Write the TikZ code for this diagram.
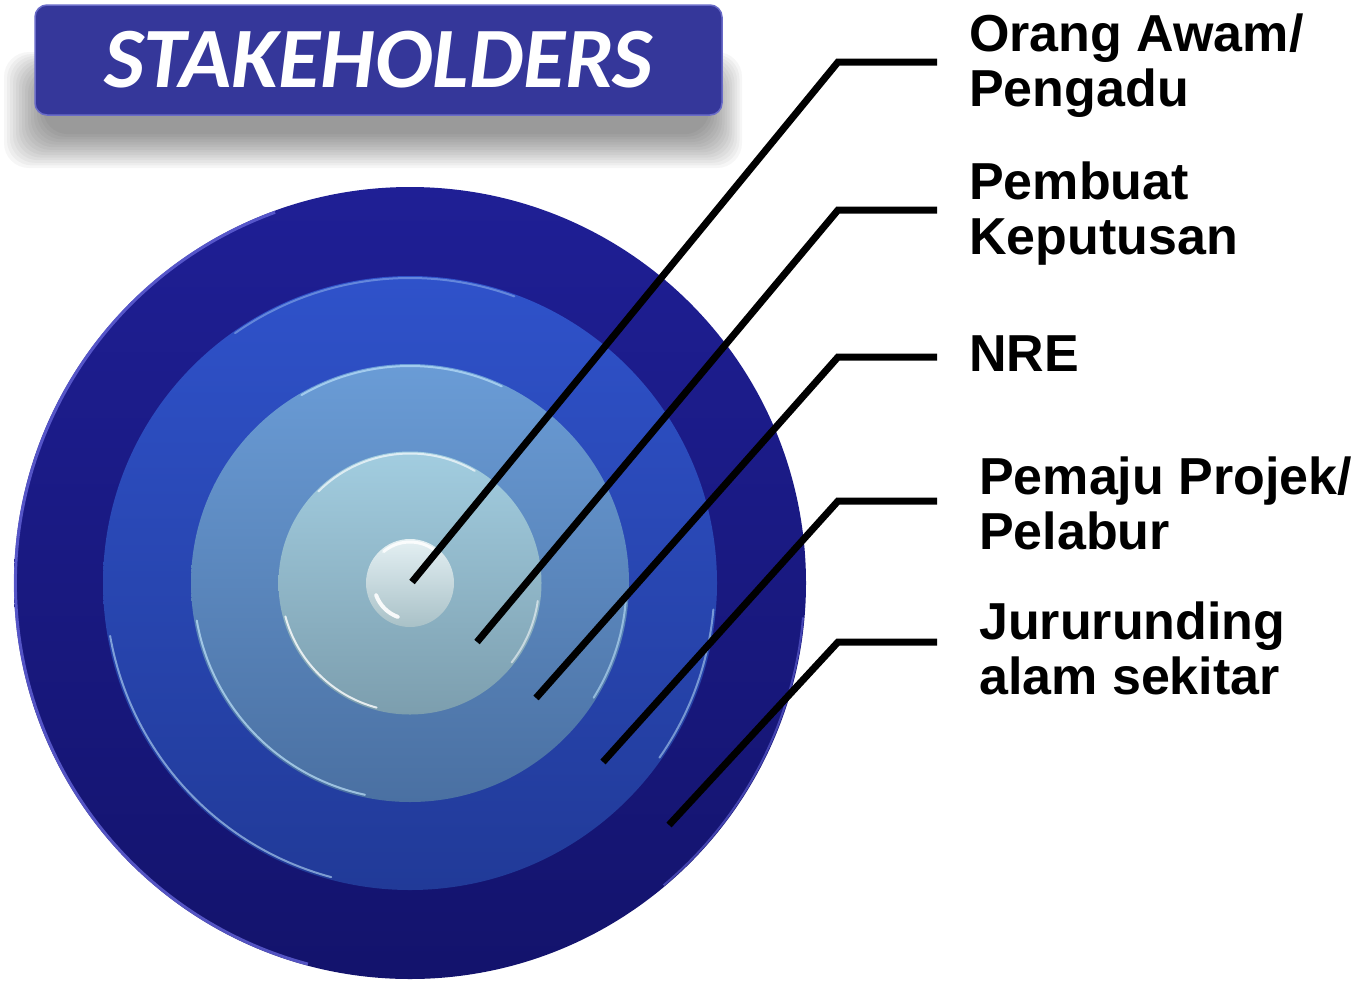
\documentclass[tikz,border=0pt]{standalone}
\usepackage{fontspec}
\setmainfont{Liberation Sans}
\newfontfamily\titlefont{Carlito}
\definecolor{boxblue}{HTML}{35379A}
\definecolor{boxrim}{HTML}{6A6CC8}
\definecolor{outerTop}{HTML}{1F1F95}
\definecolor{outerBot}{HTML}{13136C}
\definecolor{ringTwoTop}{HTML}{2F52CA}
\definecolor{ringTwoBot}{HTML}{213A98}
\definecolor{ringThreeTop}{HTML}{6A9CD6}
\definecolor{ringThreeBot}{HTML}{4A70A2}
\definecolor{ringFourTop}{HTML}{A2CDE0}
\definecolor{ringFourBot}{HTML}{7C9EAE}
\definecolor{coreTop}{HTML}{E4F0F3}
\definecolor{coreBot}{HTML}{A9C1C7}
\definecolor{outerRim}{HTML}{6464D8}
\definecolor{paleRim}{HTML}{C8ECFF}
\begin{document}
\begin{tikzpicture}[x=1pt,y=-1pt,
  lbl/.style={anchor=north west,inner sep=0pt,align=left,
              font=\fontsize{52}{55}\selectfont\bfseries},
  leader/.style={line width=7pt,black,line cap=butt,line join=miter},
  disk/.style={circle,inner sep=0pt,draw=none},
  rim/.style={paleRim,line width=2pt,opacity=0.6,line cap=round},
  titlebox/.style={rounded corners=12pt,fill=boxblue,draw=boxrim,line width=1.5pt,
                   minimum width=687pt,minimum height=110pt,inner sep=0pt,
                   text=white,font=\titlefont\bfseries\itshape\fontsize{86}{86}\selectfont}]
\useasboundingbox (0,0) rectangle (1367,980);

% soft shadow under the title box
\foreach \k in {0,...,13} {
  \fill[black,opacity=0.036,rounded corners=25pt]
    ({4+3*\k},{52+2*\k}) rectangle ({742-2.5*\k},{168-2.6*\k});
}
\node[titlebox] (title) at (378.5,60) {STAKEHOLDERS};

% target rings
\begin{scope}[shift={(410,583)},y=1pt]
  \node[disk,minimum size=792pt,top color=outerTop,bottom color=outerBot] (ring1) at (0,0) {};
  \draw[outerRim,line width=3pt,opacity=0.8] (110:394.5) arc[start angle=110,end angle=255,radius=394.5];
  \draw[outerRim,line width=2pt,opacity=0.6] (-5:394.5) arc[start angle=-5,end angle=-50,radius=394.5];

  \node[disk,minimum size=614pt,top color=ringTwoTop,bottom color=ringTwoBot] (ring2) at (0,0) {};
  \draw[rim,opacity=0.55] (190:304.5) arc[start angle=190,end angle=255,radius=304.5];
  \draw[rim,opacity=0.35] (70:305) arc[start angle=70,end angle=125,radius=305];
  \draw[rim,opacity=0.5] (-5:304.5) arc[start angle=-5,end angle=-35,radius=304.5];

  \node[disk,minimum size=438pt,top color=ringThreeTop,bottom color=ringThreeBot] (ring3) at (0,0) {};
  \draw[rim,opacity=0.65] (190:216.5) arc[start angle=190,end angle=258,radius=216.5];
  \draw[rim,opacity=0.6] (65:217) arc[start angle=65,end angle=120,radius=217];
  \draw[rim,opacity=0.55] (-5:216.5) arc[start angle=-5,end angle=-32,radius=216.5];

  \node[disk,minimum size=263pt,top color=ringFourTop,bottom color=ringFourBot] (ring4) at (0,0) {};
  \draw[rim,opacity=0.8,white] (195:129) arc[start angle=195,end angle=255,radius=129];
  \draw[rim,opacity=0.65,white] (60:129.5) arc[start angle=60,end angle=135,radius=129.5];
  \draw[rim,opacity=0.55,white] (-8:129) arc[start angle=-8,end angle=-38,radius=129];

  \node[disk,minimum size=88pt,top color=coreTop,bottom color=coreBot] (core) at (0,0) {};
  \draw[white,line width=3pt,opacity=0.85,line cap=round] (55:41) arc[start angle=55,end angle=130,radius=41];
  \draw[white,line width=4pt,opacity=0.9,line cap=round] (200:36) arc[start angle=200,end angle=250,radius=36];
\end{scope}

% leader line points
\coordinate (s1) at (412,582);
\coordinate (s2) at (477,642);
\coordinate (s3) at (536,698);
\coordinate (s4) at (603,762);
\coordinate (s5) at (669,825);
\coordinate (b1) at (838,62);
\coordinate (b2) at (838,210);
\coordinate (b3) at (838,357);
\coordinate (b4) at (838,501);
\coordinate (b5) at (838,642);
\coordinate (e1) at (937,62);
\coordinate (e2) at (937,210);
\coordinate (e3) at (937,357);
\coordinate (e4) at (937,501);
\coordinate (e5) at (937,642);

\draw[leader] (s1) -- (b1) -- (e1);
\draw[leader] (s2) -- (b2) -- (e2);
\draw[leader] (s3) -- (b3) -- (e3);
\draw[leader] (s4) -- (b4) -- (e4);
\draw[leader] (s5) -- (b5) -- (e5);

% labels
\node[lbl] (l1) at (969,14) {Orang Awam/\\Pengadu};
\node[lbl] (l2) at (969,162) {Pembuat\\Keputusan};
\node[lbl] (l3) at (969,336) {NRE};
\node[lbl] (l4) at (979,457) {Pemaju Projek/\\Pelabur};
\node[lbl] (l5) at (979,602) {Jururunding\\alam sekitar};
\end{tikzpicture}
\end{document}
